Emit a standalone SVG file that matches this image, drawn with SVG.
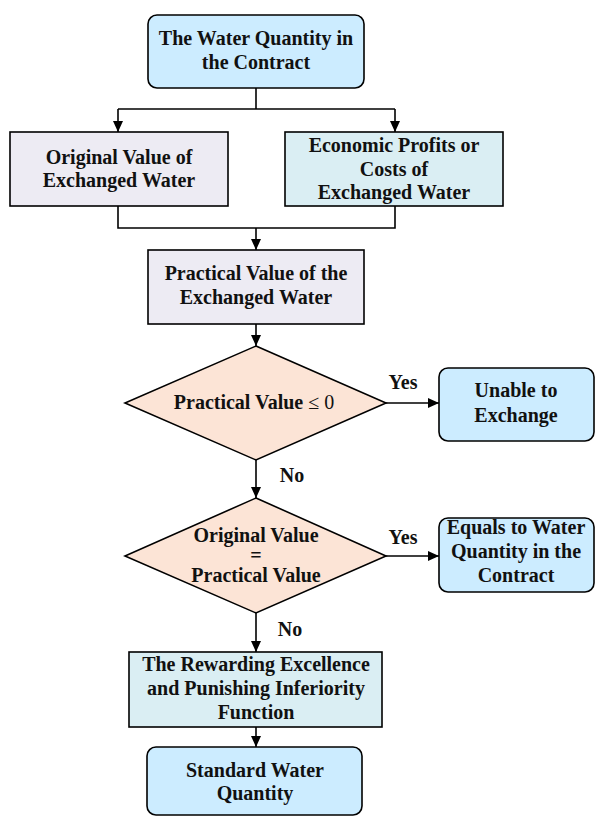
<svg xmlns="http://www.w3.org/2000/svg" width="595" height="816" viewBox="0 0 595 816">
<defs>
<style>
.box{stroke:#000;stroke-width:1.6}
.blue{fill:#CCECFF}
.lav{fill:#EDEBF3}
.cyan{fill:#DAEEF3}
.peach{fill:#FCE4D6}
text{font-family:"Liberation Serif","DejaVu Serif",serif;font-weight:bold;font-size:20px;fill:#111;text-anchor:middle}
.ln{fill:none;stroke:#000;stroke-width:1.6}
.reg{font-weight:normal}
</style>
<marker id="ah" markerUnits="userSpaceOnUse" markerWidth="12" markerHeight="12" viewBox="0 0 12 12" refX="11" refY="6" orient="auto">
<path d="M0,1 L11,6 L0,11 Z" fill="#000"/>
</marker>
</defs>
<rect width="595" height="816" fill="#fff"/>
<g id="connectors">
<path class="ln" d="M256,88 V109"/>
<path class="ln" d="M118,109 H395"/>
<path class="ln" d="M118,109 V132" marker-end="url(#ah)"/>
<path class="ln" d="M395,109 V132" marker-end="url(#ah)"/>
<path class="ln" d="M118,206 V228 H395 V206"/>
<path class="ln" d="M256,228 V250" marker-end="url(#ah)"/>
<path class="ln" d="M256,324 V346" marker-end="url(#ah)"/>
<path class="ln" d="M386,403 H439" marker-end="url(#ah)"/>
<path class="ln" d="M256,460 V498" marker-end="url(#ah)"/>
<path class="ln" d="M386,556 H439" marker-end="url(#ah)"/>
<path class="ln" d="M256,613 V652" marker-end="url(#ah)"/>
<path class="ln" d="M256,727 V747" marker-end="url(#ah)"/>
<text x="403" y="389">Yes</text>
<text x="292" y="482">No</text>
<text x="403" y="544">Yes</text>
<text x="290" y="636">No</text>
</g>
<g id="n-contract">
<rect class="box blue" x="148" y="15" width="216" height="73" rx="9"/>
<text x="256" y="45">The Water Quantity in</text>
<text x="256" y="69">the Contract</text>
</g>
<g id="n-original">
<rect class="box lav" x="10" y="132" width="218" height="74"/>
<text x="119" y="164">Original Value of</text>
<text x="119" y="187">Exchanged Water</text>
</g>
<g id="n-economic">
<rect class="box cyan" x="285" y="132" width="218" height="74"/>
<text x="394" y="152">Economic Profits or</text>
<text x="394" y="176">Costs of</text>
<text x="394" y="199">Exchanged Water</text>
</g>
<g id="n-practical">
<rect class="box lav" x="148" y="250" width="216" height="74"/>
<text x="256" y="280">Practical Value of the</text>
<text x="256" y="304">Exchanged Water</text>
</g>
<g id="d-practical">
<polygon class="box peach" points="256,346 386,403 256,460 125,403"/>
<text x="254" y="409">Practical Value <tspan class="reg">≤ 0</tspan></text>
</g>
<g id="n-unable">
<rect class="box blue" x="439" y="368" width="155" height="73" rx="9"/>
<text x="516" y="397">Unable to</text>
<text x="516" y="422">Exchange</text>
</g>
<g id="d-equal">
<polygon class="box peach" points="256,498 386,556 256,613 125,556"/>
<text x="256" y="542">Original Value</text>
<text x="256" y="562">=</text>
<text x="256" y="582">Practical Value</text>
</g>
<g id="n-equals">
<rect class="box blue" x="439" y="518" width="155" height="74" rx="9"/>
<text x="516" y="534">Equals to Water</text>
<text x="516" y="558">Quantity in the</text>
<text x="516" y="582">Contract</text>
</g>
<g id="n-reward">
<rect class="box cyan" x="129" y="652" width="253" height="75"/>
<text x="256" y="671">The Rewarding Excellence</text>
<text x="256" y="695">and Punishing Inferiority</text>
<text x="256" y="719">Function</text>
</g>
<g id="n-standard">
<rect class="box blue" x="147" y="747" width="215" height="68" rx="9"/>
<text x="255" y="777">Standard Water</text>
<text x="255" y="800">Quantity</text>
</g>
</svg>
